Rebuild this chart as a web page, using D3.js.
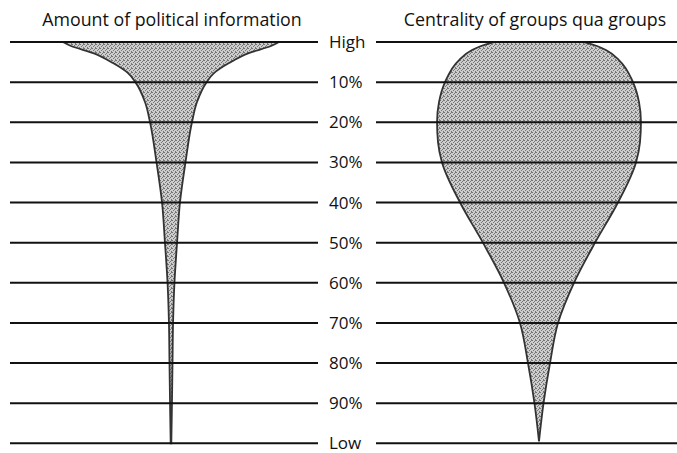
<!DOCTYPE html>
<html>
<head>
<meta charset="utf-8">
<script src="https://cdn.jsdelivr.net/npm/d3@7"></script>
<style>
  body { margin: 0; background: #fff; }
  text { font-family: "Open Sans", sans-serif; fill: #111; }
</style>
</head>
<body>
<div id="index"></div>
<script>
// levels from High (0) to Low (100)
var levels = [0, 10, 20, 30, 40, 50, 60, 70, 80, 90, 100];
var levelLabels = ["High", "10%", "20%", "30%", "40%", "50%", "60%", "70%", "80%", "90%", "Low"];

var titles = ["Amount of political information", "Centrality of groups qua groups"];

// relative spread (half width) of each shape at each level
var infoLevel = [0, 1, 2.75, 5.25, 7.75, 10, 15, 20, 30, 40, 50, 60, 70, 80, 90, 100];
var infoSpread = [100, 92.6, 72, 53.7, 39.8, 33, 24, 19.4, 13.4, 8.3, 5.6, 3.2, 1.9, 1.4, 0.9, 0.3];

var groupLevel = [0, 1, 2, 4.5, 10, 15, 20, 25, 30, 40, 50, 60, 70, 80, 90, 99.5];
var groupSpread = [41.7, 53.7, 62, 74, 87, 92.6, 94.4, 93.5, 89.8, 73.1, 51.9, 32.4, 17.6, 10.2, 4.2, 0];

var width = 677, height = 453;

var yscale = d3.scaleLinear().domain([0, 100]).range([42, 443.3]);
var wscale = d3.scaleLinear().domain([0, 100]).range([0, 108]);

var panels = [
    { title: titles[0], cx: 171, tx: 172, x1: 10, x2: 318, level: infoLevel, spread: infoSpread },
    { title: titles[1], cx: 539, tx: 535, x1: 376, x2: 677, level: groupLevel, spread: groupSpread }
];

var svg = d3.select("#index").append("svg")
    .attr("width", width)
    .attr("height", height);

// stipple texture for the shapes
var pat = svg.append("defs").append("pattern")
    .attr("id", "stipple")
    .attr("patternUnits", "userSpaceOnUse")
    .attr("width", 4)
    .attr("height", 4);
pat.append("rect").attr("width", 4).attr("height", 4).attr("fill", "#cdcdcd");
[[0, 0], [2, 1], [1, 2], [3, 3], [3, 0]].forEach(function (p) {
    pat.append("rect").attr("x", p[0]).attr("y", p[1])
        .attr("width", 1).attr("height", 1).attr("fill", "#767676");
});

panels.forEach(function (p) {
    var pts = p.level.map(function (l, i) { return { level: l, spread: p.spread[i] }; });

    var area = d3.area()
        .y(function (d) { return yscale(d.level); })
        .x0(function (d) { return p.cx - wscale(d.spread); })
        .x1(function (d) { return p.cx + wscale(d.spread); })
        .curve(d3.curveMonotoneY);

    svg.append("path")
        .datum(pts)
        .attr("d", area)
        .attr("fill", "url(#stipple)")
        .attr("stroke", "#333")
        .attr("stroke-width", 1.8);

    // Title
    svg.append("text")
        .attr("x", p.tx)
        .attr("y", 26)
        .attr("text-anchor", "middle")
        .style("font-size", "17.8px")
        .text(p.title);

    // level lines
    svg.append("g").selectAll("line")
        .data(levels)
        .enter().append("line")
        .attr("x1", p.x1)
        .attr("x2", p.x2)
        .attr("y1", function (d) { return yscale(d); })
        .attr("y2", function (d) { return yscale(d); })
        .attr("stroke", "#111")
        .attr("stroke-width", 2);
});

// level labels in the middle
svg.append("g").selectAll("text")
    .data(levels)
    .enter().append("text")
    .attr("x", 329)
    .attr("y", function (d) { return yscale(d) + 6; })
    .style("font-size", "17px")
    .text(function (d, i) { return levelLabels[i]; });
</script>
</body>
</html>
